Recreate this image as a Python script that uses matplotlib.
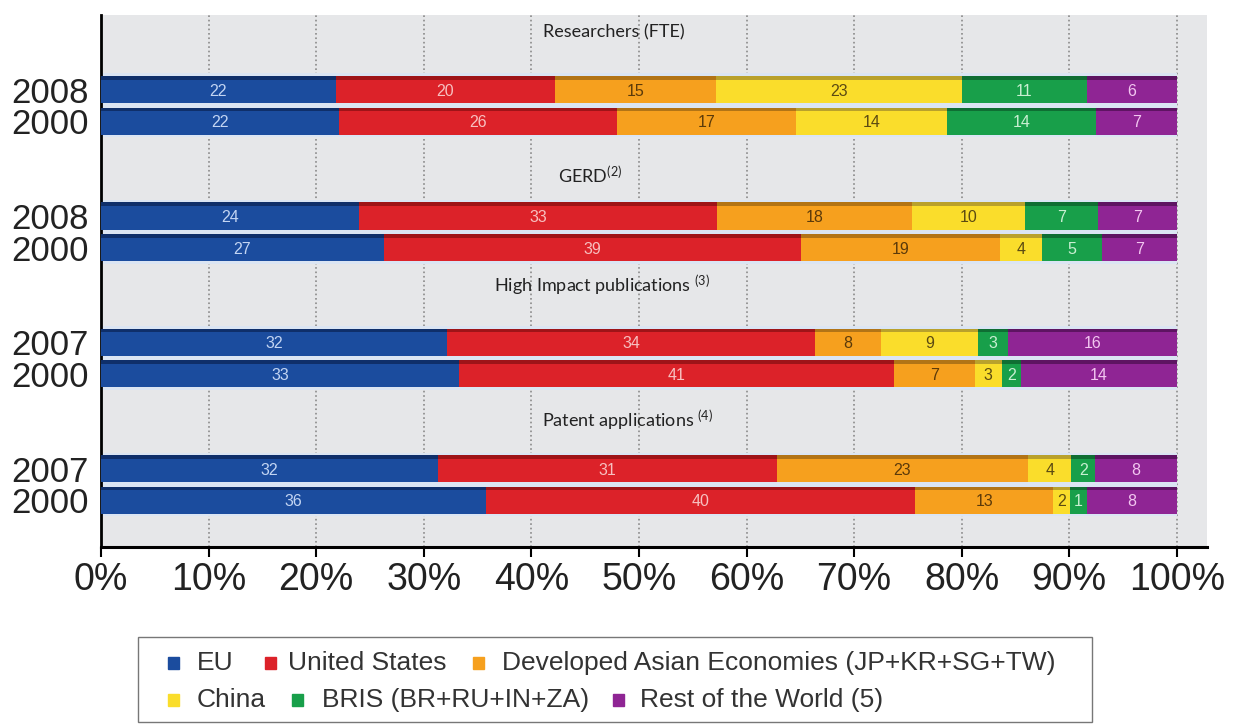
import numpy as np
import matplotlib
matplotlib.use("Agg")
import matplotlib.pyplot as plt
from matplotlib.patches import Rectangle

# Categorias e anos
titulos = ["Researchers (FTE)", r"GERD$^{(2)}$",
           r"High Impact publications $^{(3)}$", r"Patent applications $^{(4)}$"]
anos = ["2008", "2000", "2008", "2000", "2007", "2000", "2007", "2000"]
regioes = ["EU", "United States", "Developed Asian Economies (JP+KR+SG+TW)",
           "China", "BRIS (BR+RU+IN+ZA)", "Rest of the World (5)"]

# Larguras das barras (%), uma lista por região
eu = [21.8, 22.1, 24.0, 26.3, 32.2, 33.3, 31.3, 35.8]
us = [20.4, 25.9, 33.3, 38.8, 34.2, 40.4, 31.5, 39.9]
asia = [15.0, 16.6, 18.1, 18.5, 6.1, 7.5, 23.4, 12.8]
china = [22.8, 14.0, 10.5, 3.9, 9.0, 2.5, 4.0, 1.6]
bris = [11.6, 13.9, 6.8, 5.5, 2.8, 1.8, 2.2, 1.5]
resto = [8.4, 7.5, 7.3, 7.0, 15.7, 14.5, 7.6, 8.4]

# Valores impressos nas barras
eu_txt = [22, 22, 24, 27, 32, 33, 32, 36]
us_txt = [20, 26, 33, 39, 34, 41, 31, 40]
asia_txt = [15, 17, 18, 19, 8, 7, 23, 13]
china_txt = [23, 14, 10, 4, 9, 3, 4, 2]
bris_txt = [11, 14, 7, 5, 3, 2, 2, 1]
resto_txt = [6, 7, 7, 7, 16, 14, 8, 8]

larguras = [eu, us, asia, china, bris, resto]
rotulos = [eu_txt, us_txt, asia_txt, china_txt, bris_txt, resto_txt]

cores = ["#1b4c9e", "#dc2229", "#f6a01e", "#fadd2b", "#189f4a", "#8f2594"]
cores_topo = ["#0f2f6a", "#9e1418", "#b27416", "#b9a12c", "#0f6e33", "#5e1462"]
cores_txt = ["#c3d5f3", "#f7c0c0", "#5b3a0a", "#5b4a12", "#c9efd2", "#f2c6f0"]

plt.rcParams["mathtext.default"] = "regular"

W, H = 1238, 725
fig = plt.figure(figsize=(W / 100, H / 100), dpi=100)
ax = fig.add_axes([101 / W, 1 - 547 / H, (1207 - 101) / W, (547 - 15) / H])
ax.set_facecolor("#e6e7e9")

# posições verticais: dois anos por grupo, grupos de 4 em 4
y = np.array([4 * (i // 2) + (i % 2) for i in range(8)], dtype=float)
alt = 0.86

ax.barh(y, 100, height=alt + 0.16, color="#dbe5f3", zorder=2)
esquerda = np.zeros(8)
for k in range(6):
    w = np.array(larguras[k])
    ax.barh(y, w, left=esquerda, height=alt, color=cores[k], zorder=3)
    ax.barh(y - alt / 2 + 0.06, w, left=esquerda, height=0.12,
            color=cores_topo[k], zorder=4)
    for j in range(8):
        ax.text(esquerda[j] + w[j] / 2, y[j] + 0.05, str(rotulos[k][j]),
                ha="center", va="center", fontsize=11.5, color=cores_txt[k],
                family="Liberation Sans", zorder=5)
    esquerda += w

# títulos de cada bloco
pos_titulo = [(41.1, -1.82), (42.5, 2.71), (36.5, 6.22), (41.0, 10.49)]
for t, (px, py) in zip(titulos, pos_titulo):
    ax.text(px, py, t, ha="left", va="center", fontsize=13, family="Lato",
            color="#222222", zorder=5)

ax.set_xlim(0, 102.8)
ax.set_ylim(14.48, -2.36)

ax.set_xticks(range(0, 101, 10))
ax.set_xticklabels([f"{v}%" for v in range(0, 101, 10)],
                   fontsize=27, family="Liberation Sans", color="#222222")
ax.set_yticks(y)
ax.set_yticklabels(anos, fontsize=25, family="Liberation Sans", color="#222222")
ax.tick_params(axis="x", direction="out", length=7, width=1.5, pad=4)
ax.tick_params(axis="y", length=0, pad=9)

ax.xaxis.grid(True, linestyle=":", color="#8a8a8a", linewidth=1.2, zorder=1)
ax.set_axisbelow(True)
for s in ["top", "right"]:
    ax.spines[s].set_visible(False)
ax.spines["left"].set_linewidth(2)
ax.spines["bottom"].set_linewidth(2.2)

# legenda desenhada à mão
def fx(px):
    return px / W


def fy(py):
    return 1 - py / H


fig.patches.append(Rectangle((fx(138), fy(722)), fx(1092) - fx(138),
                             fy(637) - fy(722), transform=fig.transFigure,
                             facecolor="white", edgecolor="#777777", lw=1))
leg_x = [(173, 197, 663), (270, 288, 663), (478, 502, 663),
         (173, 197, 700), (297, 322, 700), (618, 640, 700)]
for k, (mx, tx, ly) in enumerate(leg_x):
    fig.patches.append(Rectangle((fx(mx - 5.5), fy(ly + 6)), 11 / W, 12 / H,
                                 transform=fig.transFigure, color=cores[k]))
    fig.text(fx(tx), fy(ly), regioes[k], ha="left", va="center",
             fontsize=19, family="Liberation Sans", color="#333333")

fig.savefig("out.png", dpi=100)
